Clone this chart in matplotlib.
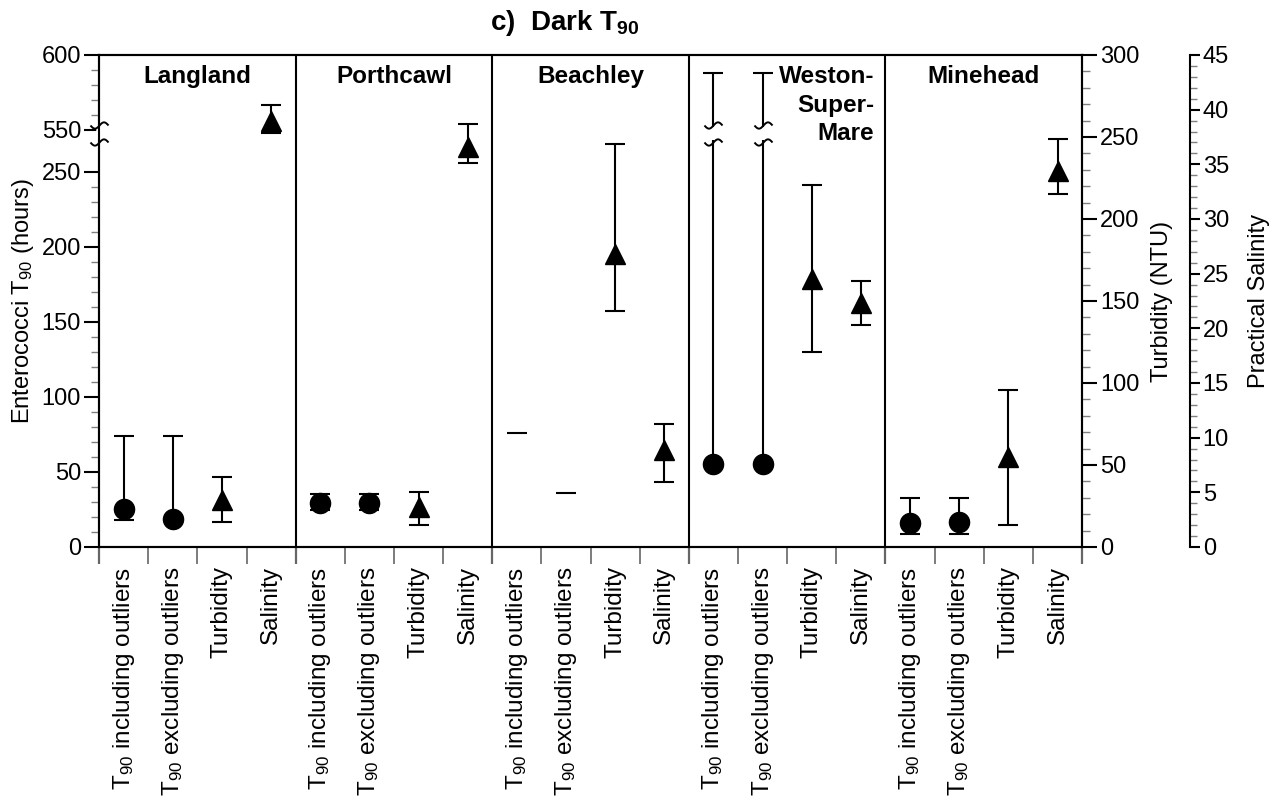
import numpy as np
import matplotlib.pyplot as plt
from matplotlib.path import Path
from matplotlib.transforms import blended_transform_factory

plt.rcParams['font.family'] = ['Liberation Sans', 'DejaVu Sans']
plt.rcParams['mathtext.fontset'] = 'custom'
plt.rcParams['mathtext.rm'] = 'Liberation Sans'
plt.rcParams['mathtext.it'] = 'Liberation Sans:italic'
plt.rcParams['mathtext.bf'] = 'Liberation Sans:bold'

# ---- data ----
sites = ['Langland', 'Porthcawl', 'Beachley', 'Weston-\nSuper-\nMare', 'Minehead']
categories = ['T$_{90}$ including outliers', 'T$_{90}$ excluding outliers',
              'Turbidity', 'Salinity']

# enterococci T90 (hours), left axis; nan value = only an upper value shown
t90_incl = [25, 29.5, np.nan, 55, 16]
t90_incl_lo = [18, 24.7, np.nan, 55, 8.7]
t90_incl_hi = [74, 35.3, 76, 588, 32.7]

t90_excl = [18.5, 29.5, np.nan, 55, 16.5]
t90_excl_lo = [18, 24.7, np.nan, 55, 8.7]
t90_excl_hi = [74, 35.3, 36, 588, 32.7]

# turbidity (NTU)
turb = [28.7, 24.4, 178.7, 163.4, 54.9]
turb_lo = [15.2, 13.4, 143.9, 118.9, 13.4]
turb_hi = [42.7, 33.5, 245.7, 220.7, 95.7]

# practical salinity
sal = [39.0, 36.6, 8.9, 22.3, 34.4]
sal_lo = [37.9, 35.1, 5.9, 20.3, 32.3]
sal_hi = [40.4, 38.7, 11.25, 24.3, 37.3]

# ---- broken left axis: 0-250, gap, 550-600 ----
GAP = 28.0


def fwd(y):
    y = np.asarray(y, float)
    return np.where(y <= 250, y,
                    np.where(y >= 550, y - 550 + 250 + GAP,
                             250 + (y - 250) * GAP / 300))


def inv(t):
    t = np.asarray(t, float)
    return np.where(t <= 250, t,
                    np.where(t >= 250 + GAP, t - 250 - GAP + 550,
                             250 + (t - 250) * 300 / GAP))


fig = plt.figure(figsize=(12.78, 8.05), dpi=100)
ax = fig.add_axes([0.0775, 0.3205, 0.7692, 0.6112])
ax.set_yscale('function', functions=(fwd, inv))
ax.set_ylim(0, 600)
ax.set_xlim(0, 20)

ax2 = ax.twinx()
ax2.set_ylim(0, 300)
ax3 = ax.twinx()
ax3.set_ylim(0, 45)
ax3.spines['right'].set_position(('axes', 1.11))
for s in ['top', 'left', 'bottom']:
    ax3.spines[s].set_visible(False)

for a in (ax, ax2, ax3):
    for s in a.spines.values():
        s.set_linewidth(1.5)

FS = 17
cap = 7.5
ekw = dict(fmt='none', ecolor='black', elinewidth=1.5, capsize=cap, capthick=1.5)
mkw = dict(linestyle='none', color='black')

n = len(sites)
for i in range(n):
    x0 = 4 * i
    # T90 including / excluding outliers
    for k, (v, lo, hi) in enumerate([(t90_incl[i], t90_incl_lo[i], t90_incl_hi[i]),
                                     (t90_excl[i], t90_excl_lo[i], t90_excl_hi[i])]):
        xc = x0 + k + 0.5
        if np.isnan(v):
            ax.plot([xc], [hi], marker='_', markersize=2 * cap, mew=1.5, **mkw)
        else:
            ax.errorbar([xc], [v], yerr=[[v - lo], [hi - v]], **ekw)
            ax.plot([xc], [v], marker='o', markersize=14.5, **mkw)
    # turbidity
    xc = x0 + 2.5
    ax2.errorbar([xc], [turb[i]], yerr=[[turb[i] - turb_lo[i]], [turb_hi[i] - turb[i]]], **ekw)
    ax2.plot([xc], [turb[i]], marker='^', markersize=14, **mkw)
    # salinity
    xc = x0 + 3.5
    ax3.errorbar([xc], [sal[i]], yerr=[[sal[i] - sal_lo[i]], [sal_hi[i] - sal[i]]], **ekw)
    ax3.plot([xc], [sal[i]], marker='^', markersize=14, **mkw)

# panel dividers
for xd in range(4, 20, 4):
    ax.axvline(xd, color='black', lw=1.5)

# panel names
bt = blended_transform_factory(ax.transData, ax.transAxes)
for i, name in enumerate(sites):
    if '\n' in name:
        ax.text(4 * i + 3.77, 0.979, name, transform=bt, ha='right', va='top',
                fontsize=17.5, fontweight='bold', linespacing=1.3)
    else:
        ax.text(4 * i + 2, 0.979, name, transform=bt, ha='center', va='top',
                fontsize=17.5, fontweight='bold')

# x ticks: boundaries unlabeled, labels at centres
ax.set_xticks(np.arange(21))
ax.set_xticklabels([])
ax.set_xticks(np.arange(20) + 0.5, minor=True)
ax.set_xticklabels(categories * n, minor=True, rotation=90, fontsize=17.5)
ax.tick_params(axis='x', which='major', length=12, width=1.2, color='0.4')
ax.tick_params(axis='x', which='minor', length=0, pad=14)
for t, loc in zip(ax.xaxis.get_major_ticks(), ax.get_xticks()):
    if int(round(loc)) % 4 == 0:
        t.tick1line.set_color('black')
        t.tick1line.set_markeredgewidth(1.6)

# left y ticks
ax.set_yticks([0, 50, 100, 150, 200, 250, 550, 600])
ax.set_yticks([v for v in range(10, 250, 10) if v % 50] + [560, 570, 580, 590], minor=True)
ax.tick_params(axis='y', which='major', length=11, width=1.5, labelsize=FS, pad=2)
ax.tick_params(axis='y', which='minor', length=5.5, width=1.0, color='0.5')
ax.set_ylabel('Enterococci T$_{90}$ (hours)', fontsize=FS, labelpad=4)

# turbidity axis
ax2.set_yticks(range(0, 301, 50))
ax2.set_yticks([v for v in range(10, 300, 10) if v % 50], minor=True)
ax2.tick_params(axis='y', which='major', length=11, width=1.5, labelsize=FS, pad=2)
ax2.tick_params(axis='y', which='minor', length=5.5, width=1.0, color='0.5')
ax2.set_ylabel('Turbidity (NTU)', fontsize=FS, labelpad=8)

# salinity axis
ax3.set_yticks(range(0, 46, 5))
ax3.set_yticks([v for v in range(1, 45) if v % 5], minor=True)
ax3.tick_params(axis='y', which='major', length=7, width=1.5, labelsize=FS, pad=2)
ax3.tick_params(axis='y', which='minor', length=5, width=1.0, color='0.5')
ax3.set_ylabel('Practical Salinity', fontsize=FS, labelpad=14)

# axis break: gap in the left spine and in the Weston-Super-Mare T90 bars,
# closed by squiggles
sx = np.linspace(-1, 1, 25)
squiggle = Path(np.column_stack([sx, 0.35 * np.sin(np.pi * sx)]))
y_top, y_bot = 0.858, 0.823
for xs, tr in [([0], ax.transAxes), ([12.5, 13.5], bt)]:
    for xv in xs:
        ax.plot([xv, xv], [y_bot + 0.004, y_top - 0.004], color='white', lw=4,
                transform=tr, clip_on=False, zorder=4, solid_capstyle='butt')
    ax.plot(xs, [y_top] * len(xs), marker=squiggle, markersize=13, mfc='none', mec='black',
            mew=1.4, linestyle='none', transform=tr, clip_on=False, zorder=5)
    ax.plot(xs, [y_bot] * len(xs), marker=squiggle, markersize=13, mfc='none', mec='black',
            mew=1.4, linestyle='none', transform=tr, clip_on=False, zorder=5)

fig.text(0.442, 0.972, r'c)  Dark T$_{\mathbf{90}}$', ha='center', va='center',
         fontsize=20, fontweight='bold')

fig.savefig('out.png', dpi=100)
